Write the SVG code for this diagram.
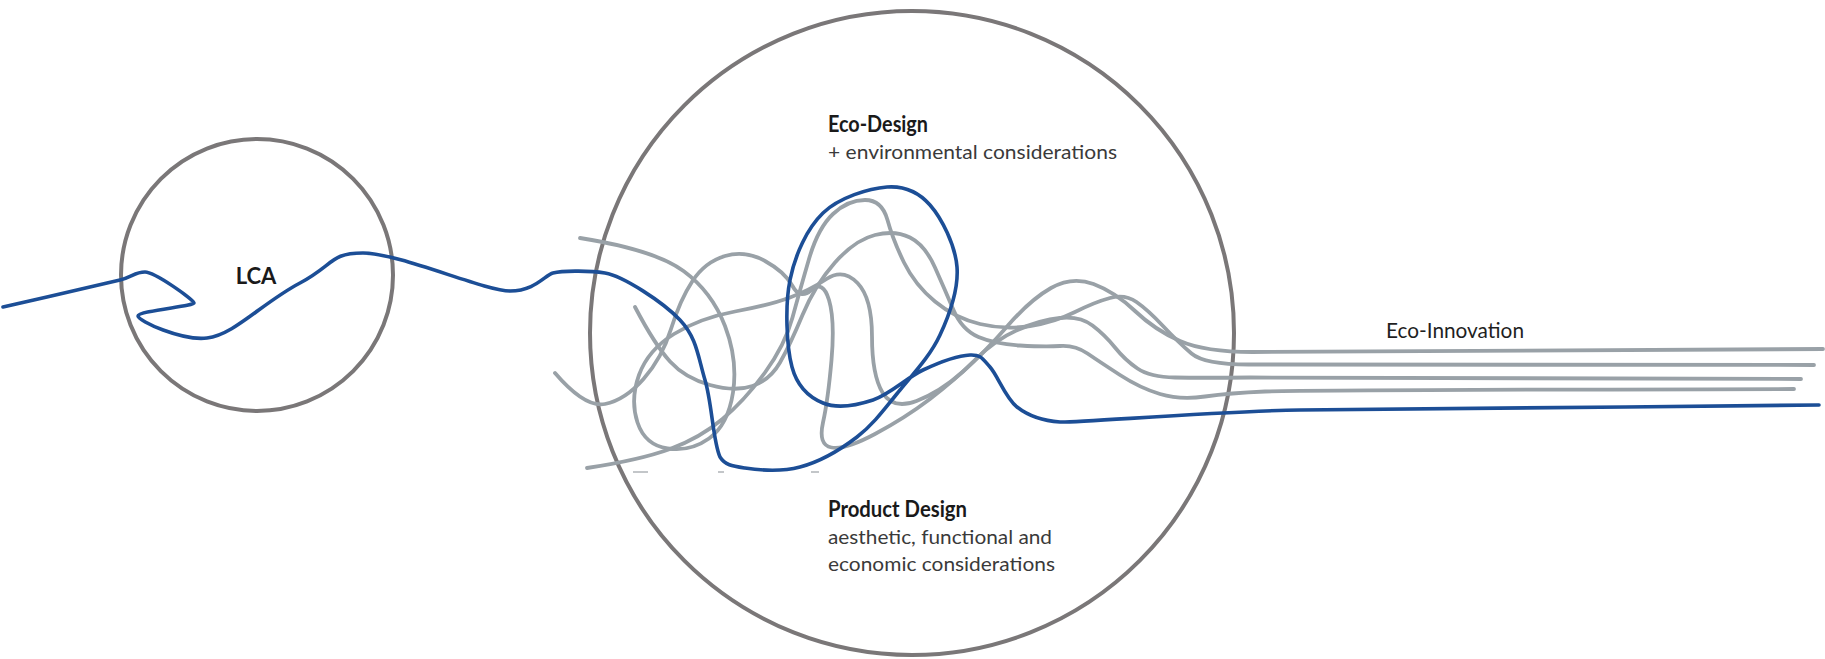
<svg xmlns="http://www.w3.org/2000/svg" width="1825" height="659" viewBox="0 0 1825 659">
<style>
.ring{fill:none;stroke:#7a7778;stroke-width:4}
.blue{fill:none;stroke:#1c4e96;stroke-width:3.6;stroke-linecap:round;stroke-linejoin:round}
.gray{fill:none;stroke:#99a1a7;stroke-width:3.8;stroke-linecap:round;stroke-linejoin:round}
.dash{stroke:#b4b8bc;stroke-width:1.6}
.t{font-family:Lato,"Open Sans","Liberation Sans",sans-serif}
.title{font-weight:bold;font-size:22px;fill:#1a1a1a}
.body{font-size:20px;fill:#3a3a3a}
</style>
<rect width="1825" height="659" fill="#ffffff"/>
<g id="lca">
<circle class="ring" cx="257" cy="275" r="136"/>
<text class="t title" x="256" y="284" text-anchor="middle" font-size="21">LCA</text>
</g>
<g id="design">
<circle class="ring" cx="912" cy="333" r="322"/>
<text class="t title" x="828" y="132" textLength="100" lengthAdjust="spacingAndGlyphs">Eco-Design</text>
<text class="t body" x="828" y="159" textLength="289" lengthAdjust="spacingAndGlyphs">+ environmental considerations</text>
<text class="t title" x="828" y="517" textLength="139" lengthAdjust="spacingAndGlyphs">Product Design</text>
<text class="t body" x="828" y="544" textLength="224" lengthAdjust="spacingAndGlyphs">aesthetic, functional and</text>
<text class="t body" x="828" y="571" textLength="227" lengthAdjust="spacingAndGlyphs">economic considerations</text>
</g>
<g id="eco-innovation">
<text class="t body" x="1386" y="338" textLength="138" lengthAdjust="spacingAndGlyphs" style="fill:#1f1f1f;font-size:21px">Eco-Innovation</text>
</g>
<g id="connectors">
<path class="gray" d="M580,238 Q655,250 683.5,271 Q712,292 725,326 Q738,360 733,392.5 Q728,425 709,438.5 Q690,452 667.5,448.5 Q645,445 637.5,422.5 Q630,400 639,375 Q648,350 674,334 Q700,318 735,311.5 Q770,305 790,297.5 Q810,290 826.5,279 Q843,268 857.5,283 Q872,298 872,336.5 Q872,375 882.5,392.5 Q893,410 916.5,401 Q940,392 962.5,372 Q985,352 1007.5,326 Q1030,300 1051,288 Q1072,276 1093.5,284 Q1115,292 1135,311 Q1155,330 1180,341 Q1205,352 1252.5,352 Q1300,352 1823,349"/>
<path class="gray" d="M635,307 Q655,345 670,361.5 Q685,378 710,385 Q735,392 752.5,386 Q770,380 780,362.5 Q790,345 802.5,315 Q815,285 835,262.5 Q855,240 875,235 Q895,230 910,237.5 Q925,245 935,267.5 Q945,290 953.5,310 Q962,330 978.5,337 Q995,344 1020,345.5 Q1045,347 1060,346 Q1075,345 1087.5,353.5 Q1100,362 1120,375 Q1140,388 1160,394 Q1180,400 1205,396.5 Q1230,393 1265,391.5 Q1300,390 1794,389"/>
<path class="gray" d="M555,373 Q585,408 605,404 Q625,400 643.5,379 Q662,358 671,329 Q680,300 692.5,281 Q705,262 725,256 Q745,250 765,261 Q785,272 792.5,286 Q800,300 811.5,290 Q823,280 829,300 Q835,320 831.5,360 Q828,400 823,422.5 Q818,445 831.5,447.5 Q845,450 875,434 Q905,418 930,399 Q955,380 975,360 Q995,340 1017.5,330 Q1040,320 1060,318 Q1080,316 1092.5,325.5 Q1105,335 1115,347.5 Q1125,360 1137.5,368.5 Q1150,377 1175,377.5 Q1200,378 1250,377.5 Q1300,377 1801,379"/>
<path class="gray" d="M587,468 Q640,460 670,449 Q700,438 722.5,419 Q745,400 765,372.5 Q785,345 792.5,317.5 Q800,290 809,259 Q818,228 833,214 Q848,200 865,200 Q882,200 887.5,220 Q893,240 904,262.5 Q915,285 935,301.5 Q955,318 980,324 Q1005,330 1030,326 Q1055,322 1075,312 Q1095,302 1110,298 Q1125,294 1136.5,302 Q1148,310 1163,326 Q1178,342 1191.5,353.5 Q1205,365 1252.5,364.5 Q1300,364 1814,365"/>
<path class="blue" d="M3,307 C42,298 108,283 120,280 C132,277 135,272 145,272 C155,272 194,300 194,303 C194,306 138,311 138,316 C138,321 182,341 207,338 C234,335 262,303 300,283 C335,264 330,253 363,253 C398,253 485,291 510,291 C535,291 545,275 553,273 C561,271 587,270 605,273 C623,276 663,302 680,320 C697,338 698,357 705,380 C712,403 713,442 720,457 C725,465 732,466 745,468 C758,470 781,472 800,467 C819,462 840,450 857,437 C874,424 886,407 900,390 C914,373 930.5,355.5 940,335 C949.5,314.5 958.7,288.7 957,267 C955.3,245.3 941.7,218.3 930,205 C918.3,191.7 904.8,185.7 887,187 C869.2,188.3 839,197.5 823,213 C807,228.5 795.2,254.3 790,280 C784.8,305.7 786.5,346.5 792,367 C797.5,387.5 809.5,397.5 823,403 C836.5,408.5 856.3,405.5 873,400 C889.7,394.5 907,377.5 923,370 C939,362.5 959,355.5 970,355 C981,354.5 982.2,358.3 990,367 C997.8,375.7 1005.3,397.8 1017,407 C1028.7,416.2 1045,421 1060,422 C1075,423 1220,411 1300,410 C1380,409 1646,407 1819,405"/>
<line class="dash" x1="633" y1="472" x2="648" y2="472"/>
<line class="dash" x1="718" y1="472" x2="724" y2="472"/>
<line class="dash" x1="811" y1="472" x2="819" y2="472"/>
</g>
</svg>
